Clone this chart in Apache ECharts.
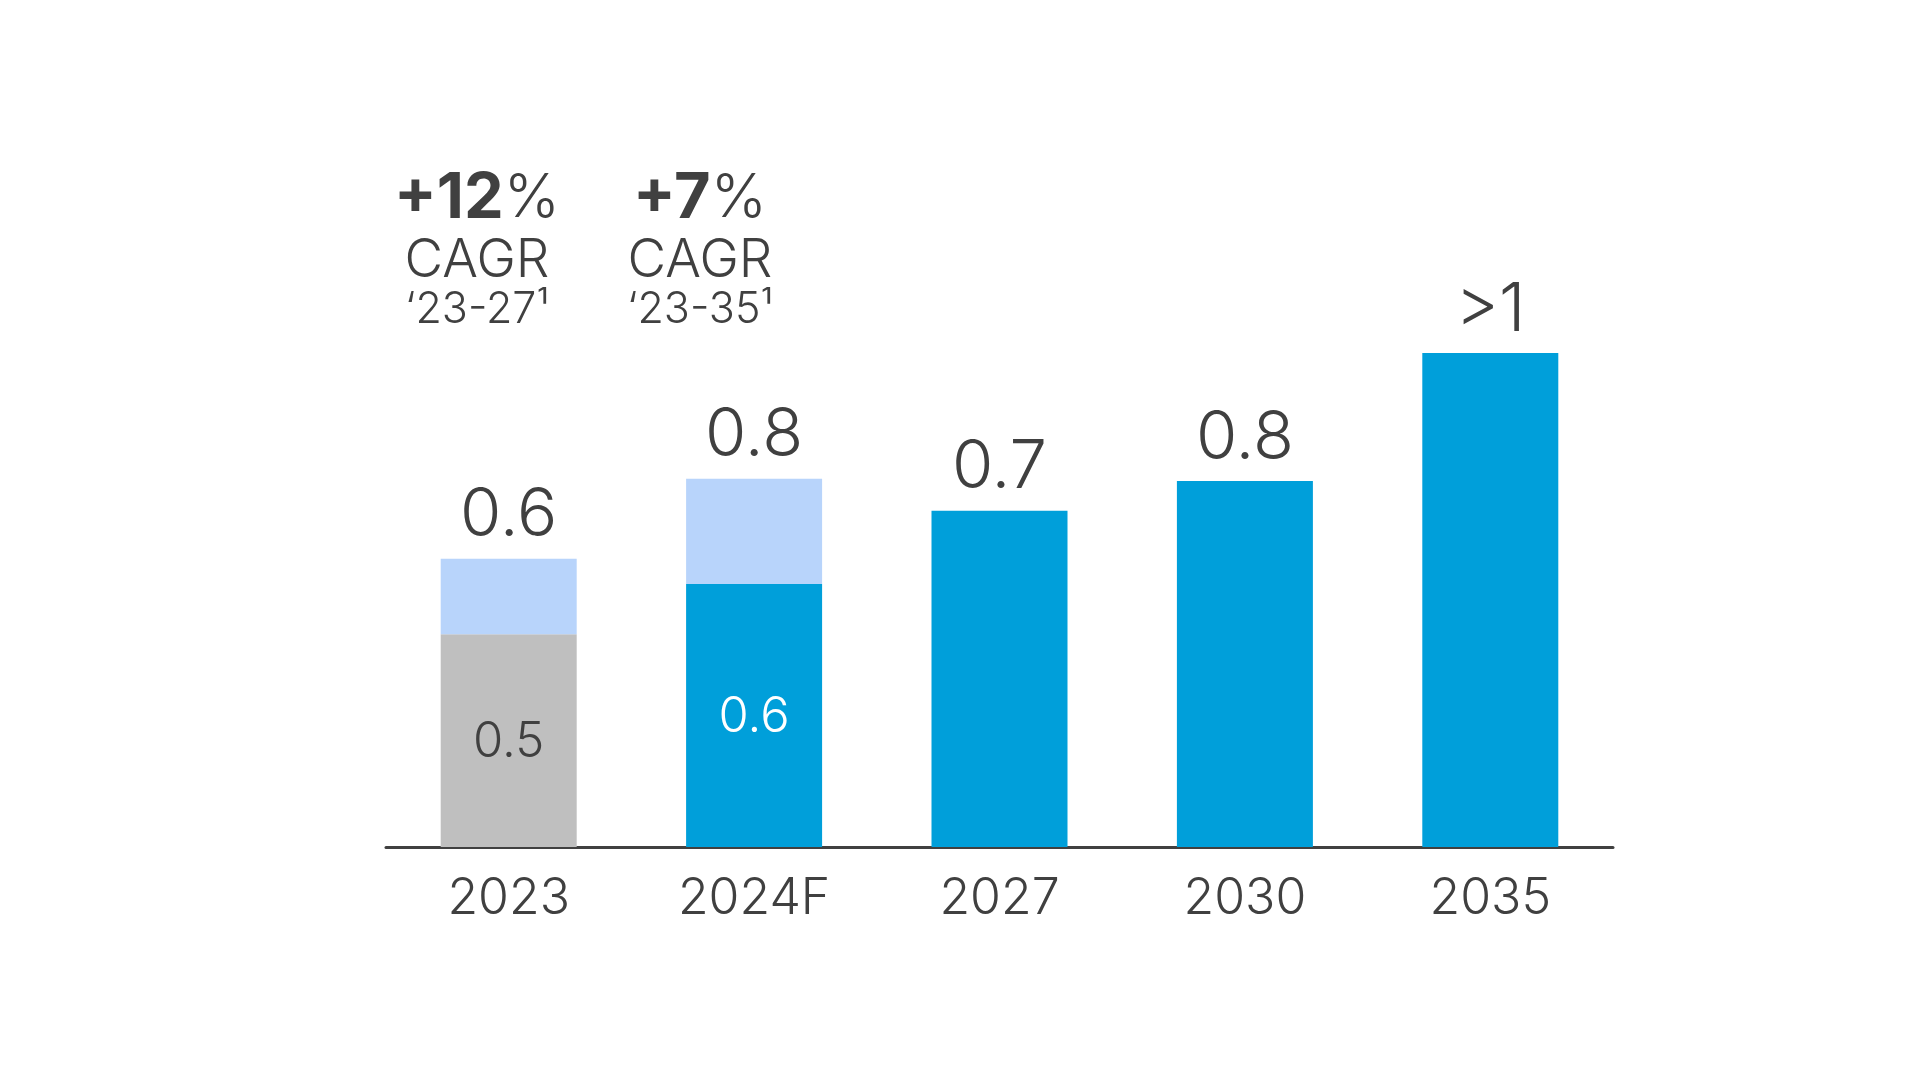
<!DOCTYPE html>
<html>
<head>
<meta charset="utf-8">
<script src="https://cdn.jsdelivr.net/npm/echarts@6/dist/echarts.min.js"></script>
<style>
html,body{margin:0;padding:0;background:#fff;}
#chart{width:1920px;height:1084px;}
</style>
</head>
<body>
<div id="chart"></div>
<script>
// ---- data ----
const categories = ['2023', '2024F', '2027', '2030', '2035'];
const baseValues = [0.465, 0.575, 0.735, 0.80, 1.08];     // grey (2023) / blue bars
const incrementValues = [0.165, 0.23, null, null, null];  // light-blue top segments
const totalLabels = ['0.6', '0.8', '0.7', '0.8', '>1'];
const innerLabels = ['0.5', '0.6', '', '', ''];
const cagrValues = ['+12', '+7'];
const cagrPeriods = ['\u201823-27\u00B9', '\u201823-35\u00B9'];

const FONT = 'Inter, "Liberation Sans", sans-serif';
const TXT = '#404040';
const BLUE = '#009FDA';
const LIGHT = '#B8D4FB';
const GREY = '#BFBFBF';
const W = 300;

const baseData = baseValues.map((v, i) => {
  const hasInc = incrementValues[i] != null;
  return {
    value: v,
    itemStyle: { color: i === 0 ? GREY : BLUE },
    label: hasInc
      ? { show: true, position: 'inside', formatter: innerLabels[i], fontSize: 49, fontWeight: W,
          color: i === 0 ? TXT : '#FFFFFF', fontFamily: FONT, offset: [0, 2] }
      : { show: true, position: 'top', formatter: totalLabels[i], fontSize: 67, fontWeight: W,
          color: TXT, fontFamily: FONT, distance: 9 }
  };
});
const incData = incrementValues.map((v, i) => v == null ? '-' : {
  value: v,
  label: { show: true, position: 'top', formatter: totalLabels[i], fontSize: 67, fontWeight: W,
           color: TXT, fontFamily: FONT, distance: 9 }
});

const cagrCenters = [477, 700];
const graphics = [];
cagrValues.forEach((c, i) => {
  graphics.push({
    type: 'text', x: cagrCenters[i], y: 199,
    style: { text: '{b|' + c + '}{p|%}', align: 'center', verticalAlign: 'middle',
      rich: {
        b: { fontSize: 63, fontWeight: 'bold', fill: TXT, fontFamily: FONT },
        p: { fontSize: 60, fontWeight: W, fill: TXT, fontFamily: FONT }
      } }
  });
  graphics.push({
    type: 'text', x: cagrCenters[i], y: 261,
    style: { text: 'CAGR', align: 'center', verticalAlign: 'middle',
      fontSize: 53, fontWeight: W, fill: TXT, fontFamily: FONT }
  });
  graphics.push({
    type: 'text', x: cagrCenters[i], y: 310,
    style: { text: cagrPeriods[i], align: 'center', verticalAlign: 'middle',
      fontSize: 43, fontWeight: W, fill: TXT, fontFamily: FONT }
  });
});

const chart = echarts.init(document.getElementById('chart'), null, { renderer: 'canvas' });
chart.setOption({
  backgroundColor: '#FFFFFF',
  animation: false,
  grid: { left: 386, right: 307, top: 298, bottom: 237, containLabel: false },
  xAxis: {
    type: 'category',
    data: categories,
    axisLine: { show: true, lineStyle: { color: TXT, width: 3 } },
    axisTick: { show: false },
    axisLabel: { fontSize: 50, fontWeight: W, color: TXT, fontFamily: FONT, margin: 27 }
  },
  yAxis: {
    type: 'value', min: 0, max: 1.2,
    show: false,
    splitLine: { show: false }
  },
  series: [
    { name: 'base', type: 'bar', stack: 'total', barWidth: 136, data: baseData },
    { name: 'increment', type: 'bar', stack: 'total', barWidth: 136,
      itemStyle: { color: LIGHT }, data: incData }
  ],
  graphic: graphics
});
</script>
</body>
</html>
